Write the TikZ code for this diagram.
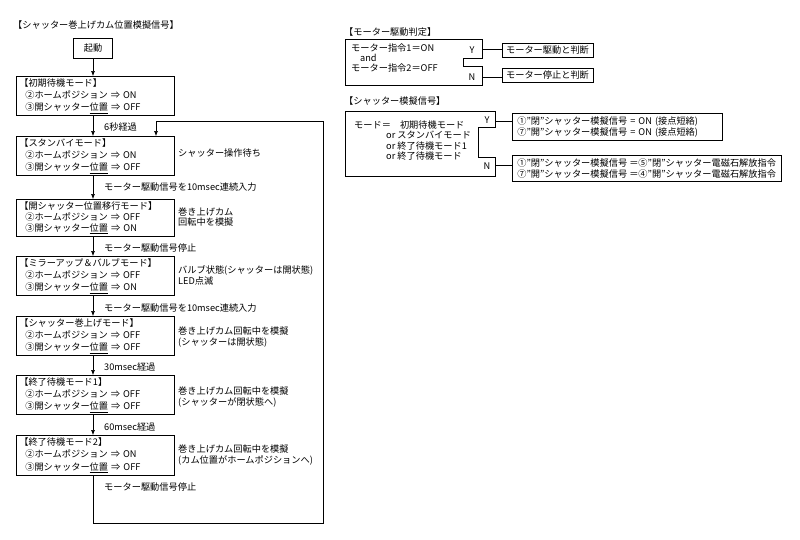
\documentclass[tikz,border=0pt]{standalone}
\usepackage{fontspec}
\setmainfont{Noto Sans CJK JP}
\usetikzlibrary{arrows.meta,positioning}

\begin{document}
\begin{tikzpicture}[x=1pt,y=-1pt,>={Latex[length=5pt,width=4pt]},
  every node/.style={font=\fontsize{9.2}{12.3}\selectfont},
  modebox/.style={draw,line width=0.6pt,anchor=north west,minimum width=158pt,
    minimum height=39pt,text width=152pt,inner xsep=3pt,inner ysep=1.5pt,align=left},
  lbl/.style={anchor=west,inner sep=0pt},
  note/.style={anchor=west,inner sep=0pt,align=left,font=\fontsize{9.2}{10.5}\selectfont},
  resbox/.style={draw,line width=0.6pt,minimum width=91pt,minimum height=14pt,inner sep=1pt},
  sigbox/.style={draw,line width=0.6pt,anchor=north west,align=left,inner xsep=5pt,inner ysep=3pt,
    font=\fontsize{9.2}{11.5}\selectfont},
  flow/.style={line width=0.6pt,->},
  wire/.style={line width=0.6pt}]
\useasboundingbox (0,0) rectangle (800,539);

% left: flow of modes
\node[lbl] (title) at (13,25) {【シャッター巻上げカム位置模擬信号】};
\node[draw,line width=0.6pt,minimum width=39pt,minimum height=20pt,inner sep=1pt] (start) at (93,48) {起動};

\node[modebox] (b1) at (16,76) {【初期待機モード】\\\hspace*{6pt}②ホームポジション ⇒ ON\\\hspace*{6pt}③開シャッター\underline{位置} ⇒ OFF};
\node[modebox] (b2) at (16,136) {【スタンバイモード】\\\hspace*{6pt}②ホームポジション ⇒ ON\\\hspace*{6pt}③開シャッター\underline{位置} ⇒ OFF};
\node[modebox,minimum height=37pt,font=\fontsize{9.2}{10.8}\selectfont] (b3) at (16,199) {【開シャッター位置移行モード】\\\hspace*{6pt}②ホームポジション ⇒ OFF\\\hspace*{6pt}③開シャッター\underline{位置} ⇒ ON};
\node[modebox] (b4) at (16,256) {【ミラーアップ＆バルブモード】\\\hspace*{6pt}②ホームポジション ⇒ OFF\\\hspace*{6pt}③開シャッター\underline{位置} ⇒ ON};
\node[modebox] (b5) at (16,316) {【シャッター巻上げモード】\\\hspace*{6pt}②ホームポジション ⇒ OFF\\\hspace*{6pt}③開シャッター\underline{位置} ⇒ OFF};
\node[modebox] (b6) at (16,375) {【終了待機モード1】\\\hspace*{6pt}②ホームポジション ⇒ OFF\\\hspace*{6pt}③開シャッター\underline{位置} ⇒ OFF};
\node[modebox,minimum height=40pt] (b7) at (16,435) {【終了待機モード2】\\\hspace*{6pt}②ホームポジション ⇒ ON\\\hspace*{6pt}③開シャッター\underline{位置} ⇒ OFF};

% transitions
\node[lbl] (t1) at (104,127) {6秒経過};
\node[lbl] (t2) at (104,187) {モーター駆動信号を10msec連続入力};
\node[lbl] (t3) at (104,248) {モーター駆動信号停止};
\node[lbl] (t4) at (104,308) {モーター駆動信号を10msec連続入力};
\node[lbl] (t5) at (104,367) {30msec経過};
\node[lbl] (t6) at (104,427) {60msec経過};
\node[lbl] (t7) at (104,487) {モーター駆動信号停止};

\draw[flow] (start.south) -- (start.south |- b1.north);
\draw[flow] (b1.south -| start) -- (b2.north -| start);
\draw[flow] (b2.south -| start) -- (b3.north -| start);
\draw[flow] (b3.south -| start) -- (b4.north -| start);
\draw[flow] (b4.south -| start) -- (b5.north -| start);
\draw[flow] (b5.south -| start) -- (b6.north -| start);
\draw[flow] (b6.south -| start) -- (b7.north -| start);

% return to standby
\coordinate (loopbot) at (323,523);
\coordinate (looptop) at (323,121);
\coordinate (ret) at (156,121);
\draw[flow] (b7.south -| start) |- (loopbot) -- (looptop) -- (ret) -- (ret |- b2.north);

% notes beside the modes
\node[note] (n2) at (178,153) {シャッター操作待ち};
\node[note] (n3) at (178,217) {巻き上げカム\\回転中を模擬};
\node[note] (n4) at (178,275.5) {バルブ状態(シャッターは開状態)\\LED点滅};
\node[note] (n5) at (178,337) {巻き上げカム回転中を模擬\\(シャッターは開状態)};
\node[note] (n6) at (178,397) {巻き上げカム回転中を模擬\\(シャッターが閉状態へ)};
\node[note] (n7) at (178,455) {巻き上げカム回転中を模擬\\(カム位置がホームポジションへ)};

% right top: motor judgement
\node[lbl] (ttlA) at (344,32) {【モーター駆動判定】};
\draw[wire] (345,39) -- (482,39) -- (482,58) -- (463,58) -- (463,66) -- (482,66) -- (482,85) -- (345,85) -- cycle;
\node[anchor=north west,inner sep=0pt,align=left,font=\fontsize{9.2}{9.8}\selectfont] (condA) at (351,43.5)
  {モーター指令1＝ON\\\hspace*{9pt}and\\モーター指令2＝OFF};
\node (yA) at (472,50) {Y};
\node (nA) at (472,77) {N};
\node[resbox] (resA1) at (547.5,50) {モーター駆動と判断};
\node[resbox] (resA2) at (547.5,75) {モーター停止と判断};
\coordinate (portAY) at (482,49);
\coordinate (portAN) at (482,77);
\draw[wire] (portAY) -- (portAY -| resA1.west);
\draw[wire] (portAN) -- (portAN -| resA2.west);

% right: shutter signal
\node[lbl] (ttlB) at (344,101) {【シャッター模擬信号】};
\draw[wire] (345,111) -- (495,111) -- (495,127) -- (478,127) -- (478,157) -- (495,157) -- (495,176) -- (345,176) -- cycle;
\node[anchor=north west,inner sep=0pt,align=left,font=\fontsize{9.2}{10.5}\selectfont] (condB) at (354,120.5)
  {モード＝\hspace{9pt}初期待機モード\\\hspace*{32pt}or スタンバイモード\\\hspace*{32pt}or 終了待機モード1\\\hspace*{32pt}or 終了待機モード};
\node (yB) at (487,120) {Y};
\node (nB) at (487,166) {N};
\node[sigbox,text width=200pt] (sigY) at (512,113) {①"閉"シャッター模擬信号 = ON (接点短絡)\\⑦"開"シャッター模擬信号 = ON (接点短絡)};
\node[sigbox] (sigN) at (512,155) {①"閉"シャッター模擬信号 ＝⑤"閉"シャッター電磁石解放指令\\⑦"開"シャッター模擬信号 ＝④"開"シャッター電磁石解放指令};
\coordinate (portBY) at (495,121);
\coordinate (portBN) at (495,165);
\draw[wire] (portBY) -- (portBY -| sigY.west);
\draw[wire] (portBN) -- (portBN -| sigN.west);
\end{tikzpicture}
\end{document}
